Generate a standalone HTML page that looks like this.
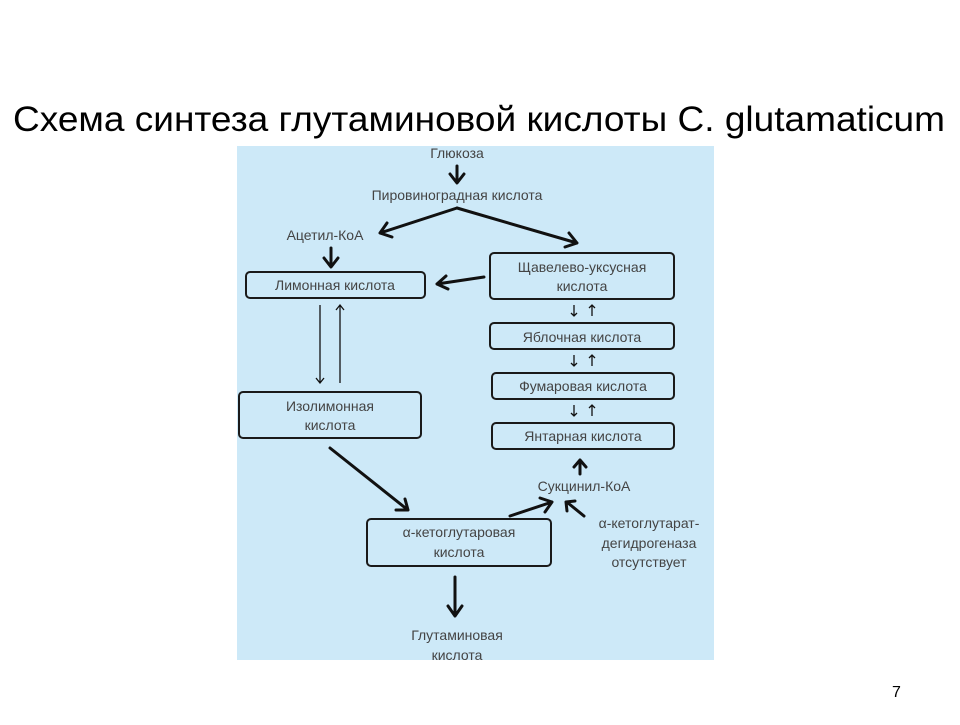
<!DOCTYPE html>
<html><head><meta charset="utf-8"><style>
body{margin:0;width:960px;height:720px;background:#fff;overflow:hidden;font-family:"Liberation Sans",sans-serif}
</style></head><body>
<svg width="960" height="720" xmlns="http://www.w3.org/2000/svg" font-family="Liberation Sans, DejaVu Sans, sans-serif">
<text x="13" y="131" font-size="35" textLength="932" lengthAdjust="spacingAndGlyphs" fill="#000">Схема синтеза глутаминовой кислоты C. glutamaticum</text>
<rect x="237" y="146" width="477" height="514" fill="#cde9f8"/>
<g fill="none" stroke="#1a1a1a" stroke-width="2" >
<rect x="246" y="272" width="179" height="26" rx="4"/>
<rect x="490" y="253" width="184" height="46" rx="4"/>
<rect x="490" y="323" width="184" height="26" rx="4"/>
<rect x="492" y="373" width="182" height="26" rx="4"/>
<rect x="492" y="423" width="182" height="26" rx="4"/>
<rect x="239" y="392" width="182" height="46" rx="4"/>
<rect x="367" y="519" width="184" height="47" rx="4"/>
</g>
<g fill="#444" font-size="14" text-anchor="middle">
<text x="457" y="158">Глюкоза</text>
<text x="457" y="200">Пировиноградная кислота</text>
<text x="325" y="240">Ацетил-КоА</text>
<text x="335" y="290">Лимонная кислота</text>
<text x="582" y="272">Щавелево-уксусная</text>
<text x="582" y="291">кислота</text>
<text x="582" y="342">Яблочная кислота</text>
<text x="583" y="391">Фумаровая кислота</text>
<text x="583" y="441">Янтарная кислота</text>
<text x="330" y="411">Изолимонная</text>
<text x="330" y="430">кислота</text>
<text x="584" y="491">Сукцинил-КоА</text>
<text x="459" y="537">α-кетоглутаровая</text>
<text x="459" y="557">кислота</text>
<text x="649" y="528">α-кетоглутарат-</text>
<text x="649" y="548">дегидрогеназа</text>
<text x="649" y="567">отсутствует</text>
<text x="457" y="640">Глутаминовая</text>
<text x="457" y="660">кислота</text>
</g>
<g fill="none" stroke="#111" stroke-width="3" stroke-linecap="round" stroke-linejoin="round">
<path d="M457 166V182M450 174l7 9 7-9"/>
<path d="M457 208L380 233M387 223L380 233L392 237"/>
<path d="M457 208L577 243M565 247L577 243L569 233"/>
<path d="M331 248V266M324 258l7 9 7-9"/>
<path d="M484 277L437 284M446 276L437 284L448 289"/>
<path d="M330 448L408 510M396 510L408 510L405 499"/>
<path d="M510 516L552 502M545 512L552 502L540 498"/>
<path d="M584 516L568 503M567 511L566 502L575 501"/>
<path d="M580 474V460M574 467l6-7 6 7"/>
<path d="M455 577V616M448 606l7 10 7-10"/>
</g>
<g fill="none" stroke="#111" stroke-width="1.3">
<path d="M320 305V383M316 378l4 5 4-5"/>
<path d="M340 383V305M336 310l4-5 4 5"/>
<path d="M574 305V316M571 313l3 3 3-3"/>
<path d="M592 316V305M589 308l3-3 3 3"/>
<path d="M574 355V366M571 363l3 3 3-3"/>
<path d="M592 366V355M589 358l3-3 3 3"/>
<path d="M574 405V416M571 413l3 3 3-3"/>
<path d="M592 416V405M589 408l3-3 3 3"/>
</g>
<text x="892" y="697" font-size="16" fill="#000">7</text>
</svg>
</body></html>
